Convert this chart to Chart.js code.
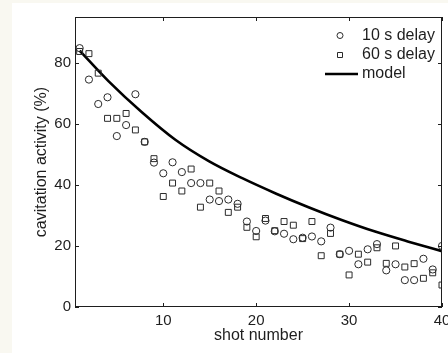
<!DOCTYPE html>
<html>
<head>
<meta charset="utf-8">
<script src="https://cdn.jsdelivr.net/npm/chart.js@4/dist/chart.umd.min.js"></script>
<style>
  html, body { margin: 0; padding: 0; background: #f9f8f1; }
  #wrap { position: absolute; left: 12px; top: 3px; width: 436px; height: 350px; background: #fff; }
</style>
</head>
<body>
<div id="wrap"><canvas id="chart" width="436" height="350"></canvas></div>
<script>
// ── Data ─────────────────────────────────────────────────
const shots = Array.from({ length: 40 }, (_, i) => i + 1);

const delay10 = [84.8, 74.5, 66.5, 68.7, 56.0, 59.6, 69.7, 54.1, 47.3, 43.8,
                 47.4, 44.2, 40.6, 40.6, 35.2, 34.7, 35.2, 33.8, 28.0, 24.9,
                 28.3, 24.8, 24.0, 22.2, 22.7, 23.1, 21.5, 26.0, 17.3, 18.4,
                 14.0, 18.9, 20.6, 12.0, 14.0, 8.8, 8.8, 15.8, 12.3, 20.0];

const delay60 = [83.7, 83.0, 76.6, 61.8, 61.8, 63.4, 58.0, 54.1, 48.6, 36.2,
                 40.6, 38.0, 45.2, 32.7, 40.6, 38.0, 31.0, 32.7, 26.1, 23.0,
                 29.0, 25.0, 28.0, 26.8, 22.4, 28.0, 16.8, 24.1, 17.3, 10.5,
                 17.3, 14.7, 19.4, 14.3, 20.0, 13.1, 14.2, 9.4, 11.2, 7.2];

const modelShots = [1, 4.1, 7.7, 11.3, 14.9, 18.5, 22.1, 25.7, 29.2, 32.8, 36.4, 40];
const modelVals  = [84.0, 74.0, 63.8, 54.8, 47.8, 42.2, 37.2, 32.6, 28.5, 24.7, 21.4, 18.3];

const xTicks = [10, 20, 30, 40];
const yTicks = [0, 20, 40, 60, 80];

const FAMILY = '"Liberation Sans", Arial, Helvetica, sans-serif';
const TICK_FONT = { family: FAMILY, size: 15 };
const LABEL_FONT = { family: FAMILY, size: 16 };
const INK = '#1e1e1e';

// ── MATLAB-style box, inward ticks and legend ────────────
const boxPlugin = {
  id: 'box',
  afterDraw(chart) {
    const { ctx, chartArea: a, scales: { x, y } } = chart;
    ctx.save();
    ctx.strokeStyle = INK;
    ctx.lineWidth = 1;
    ctx.strokeRect(a.left + 0.5, a.top + 0.5, a.right - a.left - 1, a.bottom - a.top - 1);
    ctx.beginPath();
    x.ticks.forEach(t => {
      const px = Math.round(x.getPixelForValue(t.value)) + 0.5;
      ctx.moveTo(px, a.bottom); ctx.lineTo(px, a.bottom - 4);
      ctx.moveTo(px, a.top); ctx.lineTo(px, a.top + 4);
    });
    y.ticks.forEach(t => {
      const py = Math.round(y.getPixelForValue(t.value)) + 0.5;
      ctx.moveTo(a.left, py); ctx.lineTo(a.left + 4, py);
      ctx.moveTo(a.right, py); ctx.lineTo(a.right - 4, py);
    });
    ctx.stroke();

    // legend
    const ds = chart.data.datasets;
    const mx = 328, tx = 350;
    const rows = [32.5, 52, 71];
    ctx.font = `${LABEL_FONT.size}px ${FAMILY}`;
    ctx.textBaseline = 'middle';
    ctx.fillStyle = INK;
    ds.forEach((d, i) => {
      const yy = rows[i];
      ctx.strokeStyle = d.borderColor;
      if (d.showLine === false) {
        ctx.lineWidth = 1;
        ctx.beginPath();
        if (d.pointStyle === 'circle') {
          ctx.arc(mx, yy, 3, 0, Math.PI * 2);
        } else {
          ctx.rect(mx - 2.5, yy - 2.5, 5, 5);
        }
        ctx.stroke();
      } else {
        ctx.lineWidth = d.borderWidth;
        ctx.beginPath();
        ctx.moveTo(313, yy); ctx.lineTo(346, yy);
        ctx.stroke();
      }
      ctx.fillText(d.label, tx, yy);
    });
    ctx.restore();
  },
};

new Chart(document.getElementById('chart'), {
  type: 'scatter',
  data: {
    datasets: [
      {
        label: '10 s delay',
        data: shots.map((s, i) => ({ x: s, y: delay10[i] })),
        showLine: false,
        pointStyle: 'circle',
        pointRadius: 3.6,
        borderColor: '#2a2a2a',
        backgroundColor: 'rgba(0,0,0,0)',
        borderWidth: 1,
      },
      {
        label: '60 s delay',
        data: shots.map((s, i) => ({ x: s, y: delay60[i] })),
        showLine: false,
        pointStyle: 'rect',
        pointRadius: 4.2,
        borderColor: '#2a2a2a',
        backgroundColor: 'rgba(0,0,0,0)',
        borderWidth: 1,
      },
      {
        label: 'model',
        data: modelShots.map((s, i) => ({ x: s, y: modelVals[i] })),
        showLine: true,
        pointRadius: 0,
        borderColor: '#000',
        borderWidth: 2.6,
        cubicInterpolationMode: 'monotone',
      },
    ],
  },
  options: {
    responsive: false,
    animation: false,
    layout: { padding: { top: 14, right: 6, left: 0, bottom: 0 } },
    plugins: { legend: { display: false }, tooltip: { enabled: false } },
    scales: {
      x: {
        type: 'linear', min: 0.5, max: 40,
        afterBuildTicks: s => { s.ticks = xTicks.map(v => ({ value: v })); },
        afterFit: s => { s.height = 46; s.paddingLeft = 0; s.paddingRight = 0; },
        grid: { display: false, drawTicks: false },
        border: { display: false },
        ticks: { font: TICK_FONT, color: INK, padding: 5, maxRotation: 0 },
        title: { display: true, text: 'shot number', font: LABEL_FONT, color: INK, padding: { top: 0, bottom: 8 } },
      },
      y: {
        type: 'linear', min: 0, max: 95,
        afterBuildTicks: s => { s.ticks = yTicks.map(v => ({ value: v })); },
        afterFit: s => { s.width = 63; s.paddingTop = 0; s.paddingBottom = 0; },
        grid: { display: false, drawTicks: false },
        border: { display: false },
        ticks: { font: TICK_FONT, color: INK, padding: 4 },
        title: { display: true, text: 'cavitation activity (%)', font: LABEL_FONT, color: INK, padding: { top: 20, bottom: 0 } },
      },
    },
  },
  plugins: [boxPlugin],
});
</script>
</body>
</html>
